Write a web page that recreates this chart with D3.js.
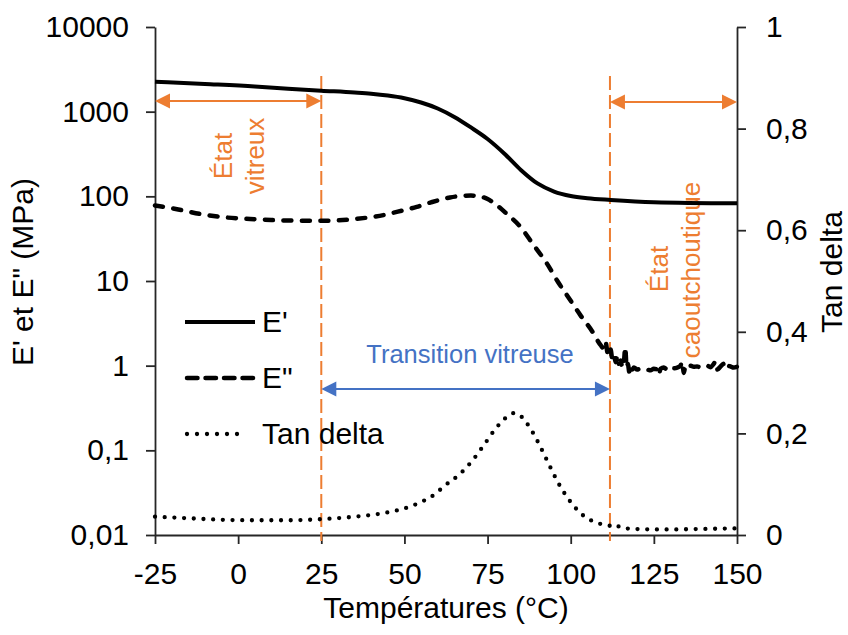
<!DOCTYPE html>
<html><head><meta charset="utf-8">
<script src="https://cdn.jsdelivr.net/npm/d3@7"></script>
<style>
html,body{margin:0;padding:0;background:#fff;}
svg{display:block;font-family:"Liberation Sans",Arial,sans-serif;}
</style></head>
<body><svg id="c" width="848" height="635"></svg>
<script>
// ---- data ----
const xTicks = [-25, 0, 25, 50, 75, 100, 125, 150];
const xTickLabels = ["-25", "0", "25", "50", "75", "100", "125", "150"];
const leftTicks = [0.01, 0.1, 1, 10, 100, 1000, 10000];
const leftTickLabels = ["0,01", "0,1", "1", "10", "100", "1000", "10000"];
const rightTicks = [0, 0.2, 0.4, 0.6, 0.8, 1];
const rightTickLabels = ["0", "0,2", "0,4", "0,6", "0,8", "1"];

// E' (MPa) : [T °C, value]
const ePrime = [[-25,2261],[-10,2123],[5,1984],[15,1869],[25,1770],[35,1681],[40,1627],[45,1549],[50,1440],
  [55,1284],[60,1091],[65,866],[70,651],[75,476],[80,321],[85,205],[90,142],[95,114],[100,101],
  [105,95],[112,90.7],[125,85.4],[150,82.9]];
// E'' (MPa)
const eSecond = [[-25,78],[-18,70],[-11.5,62],[-5,57],[3.6,54],[10,52.5],[18.6,51.6],[25,51.5],[28.5,51.7],[35,54],
  [43.7,60],[48,66],[53.7,75],[58,85],[63.7,97],[67,101],[70,102],[72.5,100],[75,93],[77.7,79],[80.6,63],
  [84.8,44],[88.8,26.7],[92.8,16.2],[96,10],[99.8,6],[103,3.9],[106.8,2.42],[108,2.0],[109,1.75],[110,1.6],
  [110.5,1.9],[111,1.45],[111.5,1.3],[112,1.55],[112.5,1.2],[113,1.35],[113.5,1.1],[114,1.3],[114.5,1.05],
  [115,1.15],[115.5,0.95],[116,1.1],[116.4,1.65],[116.8,0.95],[117.2,1.05],[117.6,0.85],[118,1.0],[118.5,0.9],
  [119,0.95],[120,0.9],[121,0.93],[122,0.92],[123,0.9],[124,0.88],[125,0.92],[126,0.9],[126.5,0.78],[127,0.92],
  [128,0.95],[129,0.9],[130,0.97],[131,0.93],[132,0.95],[133,1.0],[133.5,1.12],[134,0.82],[134.5,1.0],[135,0.95],
  [136,1.0],[137,0.97],[138,0.98],[139,0.95],[140,0.97],[141,1.0],[142,0.96],[143,1.05],[143.5,1.12],[144,0.9],
  [145,0.97],[146,1.05],[146.5,0.93],[147,1.0],[148,0.98],[149,0.95],[150,0.97]];
// Tan delta
const tanDelta = [[-25,0.036],[-15,0.033],[-5,0.030],[5,0.029],[15,0.029],[24.6,0.031],[35,0.036],[43.7,0.043],
  [51.7,0.056],[54.7,0.064],[59.7,0.083],[61.7,0.095],[66.5,0.119],[70.5,0.147],[74,0.178],[77.5,0.21],
  [81.6,0.236],[83,0.24],[84.6,0.236],[88.3,0.205],[91,0.172],[93.6,0.137],[96.3,0.102],[99.4,0.070],
  [103.3,0.041],[108.3,0.023],[111.8,0.018],[113,0.015],[114,0.018],[115,0.014],[117.9,0.0124],[125,0.011],
  [130,0.011],[140,0.012],[150,0.013]];

const legendItems = ["E'", "E\"", "Tan delta"];
const zoneBounds = [25, 111.8];   // temperature limits of the glass transition

// ---- layout ----
const svg = d3.select("#c");
const x = d3.scaleLinear().domain([-25, 150]).range([155, 737]);
const yL = d3.scaleLog().domain([0.01, 10000]).range([535, 27]);
const yR = d3.scaleLinear().domain([0, 1]).range([535, 27]);
const ORANGE = "#ED7D31", BLUE = "#4472C4", AX = "#262626";
const FS = 30;

function styleAxis(g) {
  g.selectAll("path.domain").attr("stroke", AX).attr("stroke-width", 1.8);
  g.selectAll(".tick line").attr("stroke", AX).attr("stroke-width", 1.8);
  g.selectAll(".tick text").attr("fill", "#000").style("font-size", FS + "px").style("font-family", '"Liberation Sans",Arial,sans-serif');
}

const gx = svg.append("g").attr("transform", "translate(0,535)")
  .call(d3.axisBottom(x).tickValues(xTicks).tickFormat((d, i) => xTickLabels[i]).tickSize(9).tickSizeOuter(0).tickPadding(19));
styleAxis(gx);
const gl = svg.append("g").attr("transform", "translate(155,0)")
  .call(d3.axisLeft(yL).tickValues(leftTicks).tickFormat((d, i) => leftTickLabels[i]).tickSize(9).tickSizeOuter(0).tickPadding(17));
styleAxis(gl);
const gr = svg.append("g").attr("transform", "translate(737,0)")
  .call(d3.axisRight(yR).tickValues(rightTicks).tickFormat((d, i) => rightTickLabels[i]).tickSize(9).tickSizeOuter(0).tickPadding(20));
styleAxis(gr);

// axis titles
svg.append("text").attr("x", 446).attr("y", 618).attr("text-anchor", "middle")
  .style("font-size", FS + "px").text("Températures (°C)");
svg.append("text").attr("transform", "translate(33,272) rotate(-90)").attr("text-anchor", "middle")
  .style("font-size", FS + "px").text("E' et E\" (MPa)");
svg.append("text").attr("transform", "translate(842,272) rotate(-90)").attr("text-anchor", "middle")
  .style("font-size", FS + "px").text("Tan delta");

// ---- annotations (behind curves) ----
zoneBounds.forEach(t => {
  svg.append("line").attr("x1", x(t)).attr("x2", x(t)).attr("y1", 76).attr("y2", 541)
    .attr("stroke", ORANGE).attr("stroke-width", 2).attr("stroke-dasharray", "14 5");
});

function arrow(x1, x2, y, color) {
  const L = 15, H = 7.5;
  svg.append("line").attr("x1", x1 + L - 1).attr("x2", x2 - L + 1).attr("y1", y).attr("y2", y)
    .attr("stroke", color).attr("stroke-width", 2);
  svg.append("path").attr("d", `M${x1},${y}L${x1 + L},${y - H}L${x1 + L},${y + H}Z`).attr("fill", color);
  svg.append("path").attr("d", `M${x2},${y}L${x2 - L},${y - H}L${x2 - L},${y + H}Z`).attr("fill", color);
}
arrow(x(-25), x(zoneBounds[0]), yL(1340), ORANGE);
arrow(x(zoneBounds[1]), x(150), yL(1300), ORANGE);
arrow(x(zoneBounds[0]), x(zoneBounds[1]), yL(0.53), BLUE);

svg.append("text").attr("x", 470).attr("y", 363).attr("text-anchor", "middle")
  .attr("fill", BLUE).style("font-size", "25.5px").text("Transition vitreuse");

function vtext(cx, cy, str) {
  svg.append("text").attr("transform", `translate(${cx},${cy}) rotate(-90)`).attr("text-anchor", "middle")
    .attr("fill", ORANGE).style("font-size", "26px").text(str);
}
vtext(232, 156, "État");
vtext(264, 156, "vitreux");
vtext(668, 269, "État");
vtext(700, 270, "caoutchoutique");

// ---- curves ----
const lineL = d3.line().x(d => x(d[0])).y(d => yL(d[1])).curve(d3.curveMonotoneX);
const lineR = d3.line().x(d => x(d[0])).y(d => yR(d[1])).curve(d3.curveMonotoneX);

svg.append("path").datum(ePrime).attr("d", lineL).attr("fill", "none")
  .attr("stroke", "#000").attr("stroke-width", 4);
svg.append("path").datum(eSecond).attr("d", lineL).attr("fill", "none")
  .attr("stroke", "#000").attr("stroke-width", 4.5).attr("stroke-linecap", "round")
  .attr("stroke-dasharray", "8 10.5");
svg.append("path").datum(tanDelta).attr("d", lineR).attr("fill", "none")
  .attr("stroke", "#000").attr("stroke-width", 4.3).attr("stroke-linecap", "round")
  .attr("stroke-dasharray", "0 9.7");

// ---- legend ----
const legY = [322, 378, 434];
const leg = svg.append("g");
leg.append("line").attr("x1", 185).attr("x2", 255).attr("y1", legY[0]).attr("y2", legY[0])
  .attr("stroke", "#000").attr("stroke-width", 4);
leg.append("line").attr("x1", 187).attr("x2", 255).attr("y1", legY[1]).attr("y2", legY[1])
  .attr("stroke", "#000").attr("stroke-width", 4.5).attr("stroke-linecap", "round").attr("stroke-dasharray", "10.5 8");
leg.append("line").attr("x1", 187).attr("x2", 247).attr("y1", legY[2]).attr("y2", legY[2])
  .attr("stroke", "#000").attr("stroke-width", 4.3).attr("stroke-linecap", "round").attr("stroke-dasharray", "0 10");
legendItems.forEach((t, i) => {
  leg.append("text").attr("x", 262).attr("y", legY[i] + 10).style("font-size", FS + "px").text(t);
});
</script></body></html>
